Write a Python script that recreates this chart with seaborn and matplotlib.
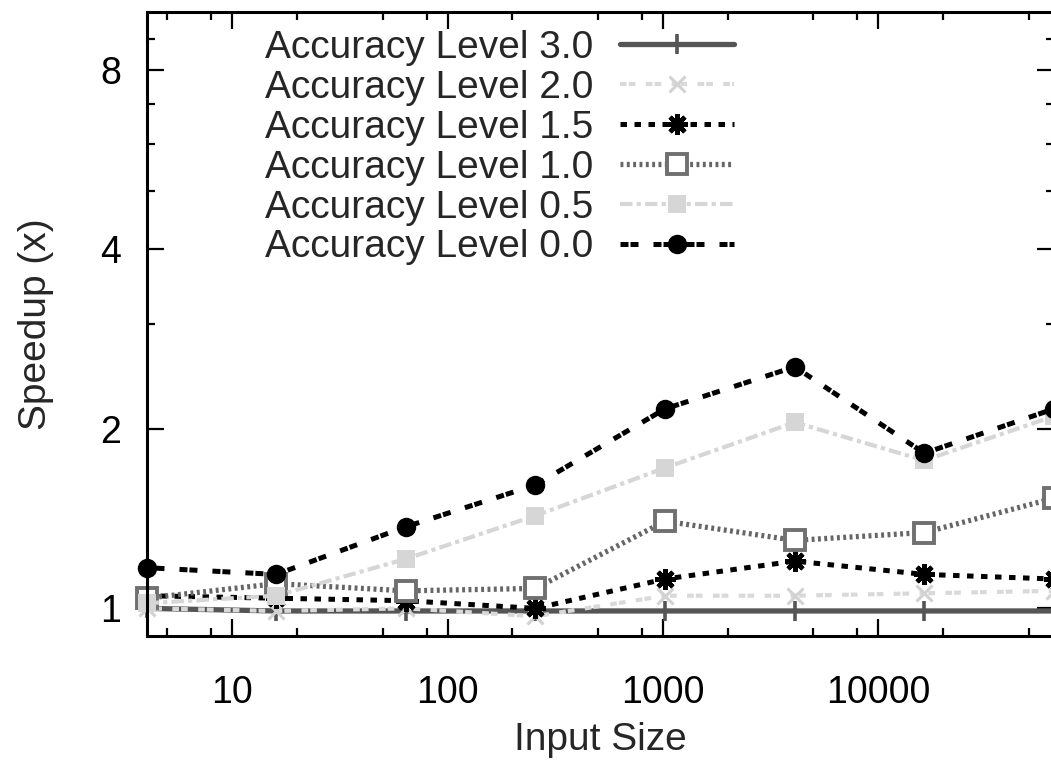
import numpy as np
import pandas as pd
import matplotlib

matplotlib.use('Agg')

import matplotlib.pyplot as plt
import matplotlib.ticker as mticker
import seaborn as sns

#Data
input_sizes = [4, 16, 64, 256, 1024, 4096, 16384, 65536]
levels = ['3.0', '2.0', '1.5', '1.0', '0.5', '0.0']

speedup_30 = [1.00, 0.99, 0.99, 0.99, 0.99, 0.99, 0.99, 0.99]
speedup_20 = [1.00, 0.99, 1.00, 0.97, 1.05, 1.05, 1.06, 1.07]
speedup_15 = [1.05, 1.04, 1.03, 1.00, 1.12, 1.20, 1.14, 1.12]
speedup_10 = [1.04, 1.10, 1.07, 1.08, 1.40, 1.30, 1.34, 1.53]
speedup_05 = [1.02, 1.05, 1.21, 1.43, 1.72, 2.05, 1.77, 2.10]
speedup_00 = [1.17, 1.14, 1.37, 1.61, 2.16, 2.54, 1.82, 2.16]

speedups = [speedup_30, speedup_20, speedup_15, speedup_10, speedup_05, speedup_00]

#Styles per level
styles = {
    '3.0': dict(color='#555555', linestyle='-', lw=3.8, marker='+', ms=15, mew=2.6,
                markeredgecolor='#555555'),
    '2.0': dict(color='#d9d9d9', linestyle=(0, (1.6, 0.5, 1.6, 2.5)), lw=3.0, marker='x', ms=12, mew=2.2,
                markeredgecolor='#d2d2d2'),
    '1.5': dict(color='black', linestyle=(0, (1.3, 1.5)), lw=3.6, marker=(8, 2, 0), ms=15, mew=3.2,
                markeredgecolor='black'),
    '1.0': dict(color='#666666', linestyle=(0, (0.55, 0.65)), lw=3.8, marker='s', ms=14, mew=2.8,
                markerfacecolor='white', markeredgecolor='#707070'),
    '0.5': dict(color='#d6d6d6', linestyle=(0, (3, 1, 1, 1)), lw=3.0, marker='s', ms=13, mew=0),
    '0.0': dict(color='black', linestyle=(0, (1.6, 0.4, 1.6, 3.0)), lw=3.6, marker='o', ms=14, mew=0),
}

sns.set_style('ticks')
plt.rcParams['font.family'] = ['Liberation Sans', 'DejaVu Sans']

fig = plt.figure(figsize=(10.51, 7.61), dpi=100)
ax = fig.add_axes([0.1394, 0.1647, 1.0029 - 0.1394, 0.9846 - 0.1647])

for lev, vals in zip(levels, speedups):
    df = pd.DataFrame({'size': input_sizes, 'speedup': vals})
    st = dict(styles[lev])
    ls = st.pop('linestyle')
    sns.lineplot(data=df, x='size', y='speedup', ax=ax, label='Accuracy Level ' + lev,
                 linestyle=ls, clip_on=False, **st)

ax.set_xscale('log')
ax.set_yscale('log', base=2)
ax.set_xlim(4, 65536)
ax.set_ylim(0.9, 10)

ax.xaxis.set_major_locator(mticker.FixedLocator([10, 100, 1000, 10000]))
ax.xaxis.set_major_formatter(mticker.FixedFormatter(['10', '100', '1000', '10000']))
x_minor = [m * 10 ** k for k in range(0, 5) for m in (2, 5, 8)]
ax.xaxis.set_minor_locator(mticker.FixedLocator(x_minor))
ax.xaxis.set_minor_formatter(mticker.NullFormatter())

ax.yaxis.set_major_locator(mticker.FixedLocator([1, 2, 4, 8]))
ax.yaxis.set_major_formatter(mticker.FixedFormatter(['1', '2', '4', '8']))
ax.yaxis.set_minor_locator(mticker.FixedLocator([3, 5, 6, 7, 9]))
ax.yaxis.set_minor_formatter(mticker.NullFormatter())

ax.tick_params(which='both', direction='in', top=True, right=True, colors='black')
ax.tick_params(which='major', length=12, width=1.6, labelsize=27)
ax.tick_params(which='minor', length=6, width=1.6)
ax.tick_params(axis='x', which='major', pad=28)
ax.tick_params(axis='y', which='major', pad=18.5)

for sp in ax.spines.values():
    sp.set_linewidth(2.2)
    sp.set_color('black')

ax.set_xlabel('Input Size', fontsize=28, labelpad=8)
ax.set_ylabel('Speedup (x)', fontsize=28, labelpad=33)

leg = ax.legend(loc='upper left', bbox_to_anchor=(265 / 1051, 1 - 30 / 761),
                bbox_transform=fig.transFigure, frameon=False, fontsize=28,
                markerfirst=False, handlelength=2.92, handletextpad=0.69,
                labelspacing=0.1, borderpad=0, borderaxespad=0)

fig.savefig('out.png', dpi=100)
